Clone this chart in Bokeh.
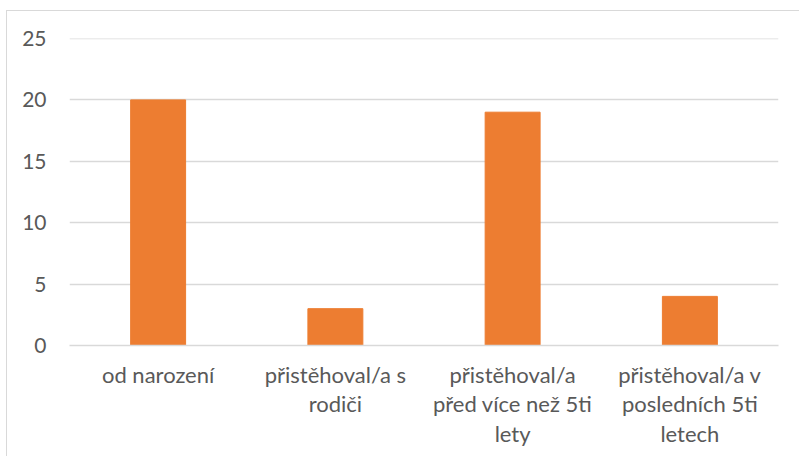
from bokeh.plotting import figure
from bokeh.models import ColumnDataSource, FactorRange, Span
from bokeh.embed import file_html
from bokeh.resources import INLINE

categories = ["od narození", "přistěhoval/a s\nrodiči", "přistěhoval/a\npřed více než 5ti\nlety", "přistěhoval/a v\nposledních 5ti\nletech"]
values = [20, 3, 19, 4]
y_ticks = [0, 5, 10, 15, 20, 25]

FONT = "Lato"
TXT = "#595959"
GRID = "#D9D9D9"

src = ColumnDataSource(dict(cat=categories, val=values))

p = figure(x_range=FactorRange(*categories, range_padding=0), y_range=(0, 25),
           width=793, height=446, output_backend="svg", toolbar_location=None,
           min_border_left=62, min_border_right=22, min_border_top=27, min_border_bottom=112)
p.margin = (10, 0, 0, 6)
p.styles = {"border-left": "1.5px solid #D9D9D9", "border-top": "1.5px solid #D9D9D9",
            "box-sizing": "border-box"}
p.vbar(x="cat", top="val", width=0.31, color="#ED7D31", source=src)

p.outline_line_color = None
p.xgrid.grid_line_color = None
p.ygrid.grid_line_color = GRID
p.ygrid.grid_line_width = 1.5
p.add_layout(Span(location=y_ticks[-1], dimension="width", line_color=GRID, line_width=1.5))
p.yaxis.ticker = y_ticks
p.yaxis.axis_line_color = None
p.yaxis.major_tick_line_color = None
p.yaxis.minor_tick_line_color = None
p.yaxis.major_label_standoff = 17
p.xaxis.axis_line_color = GRID
p.xaxis.axis_line_width = 1.5
p.xaxis.major_tick_line_color = None
p.xaxis.major_label_standoff = 9
for ax in (p.xaxis, p.yaxis):
    ax.major_label_text_font = FONT
    ax.major_label_text_color = TXT
p.yaxis.major_label_text_font_size = "21px"
p.xaxis.major_label_text_font_size = "22px"
p.xaxis.major_label_text_line_height = 1.1

open("out.html", "w").write(file_html(p, INLINE))
